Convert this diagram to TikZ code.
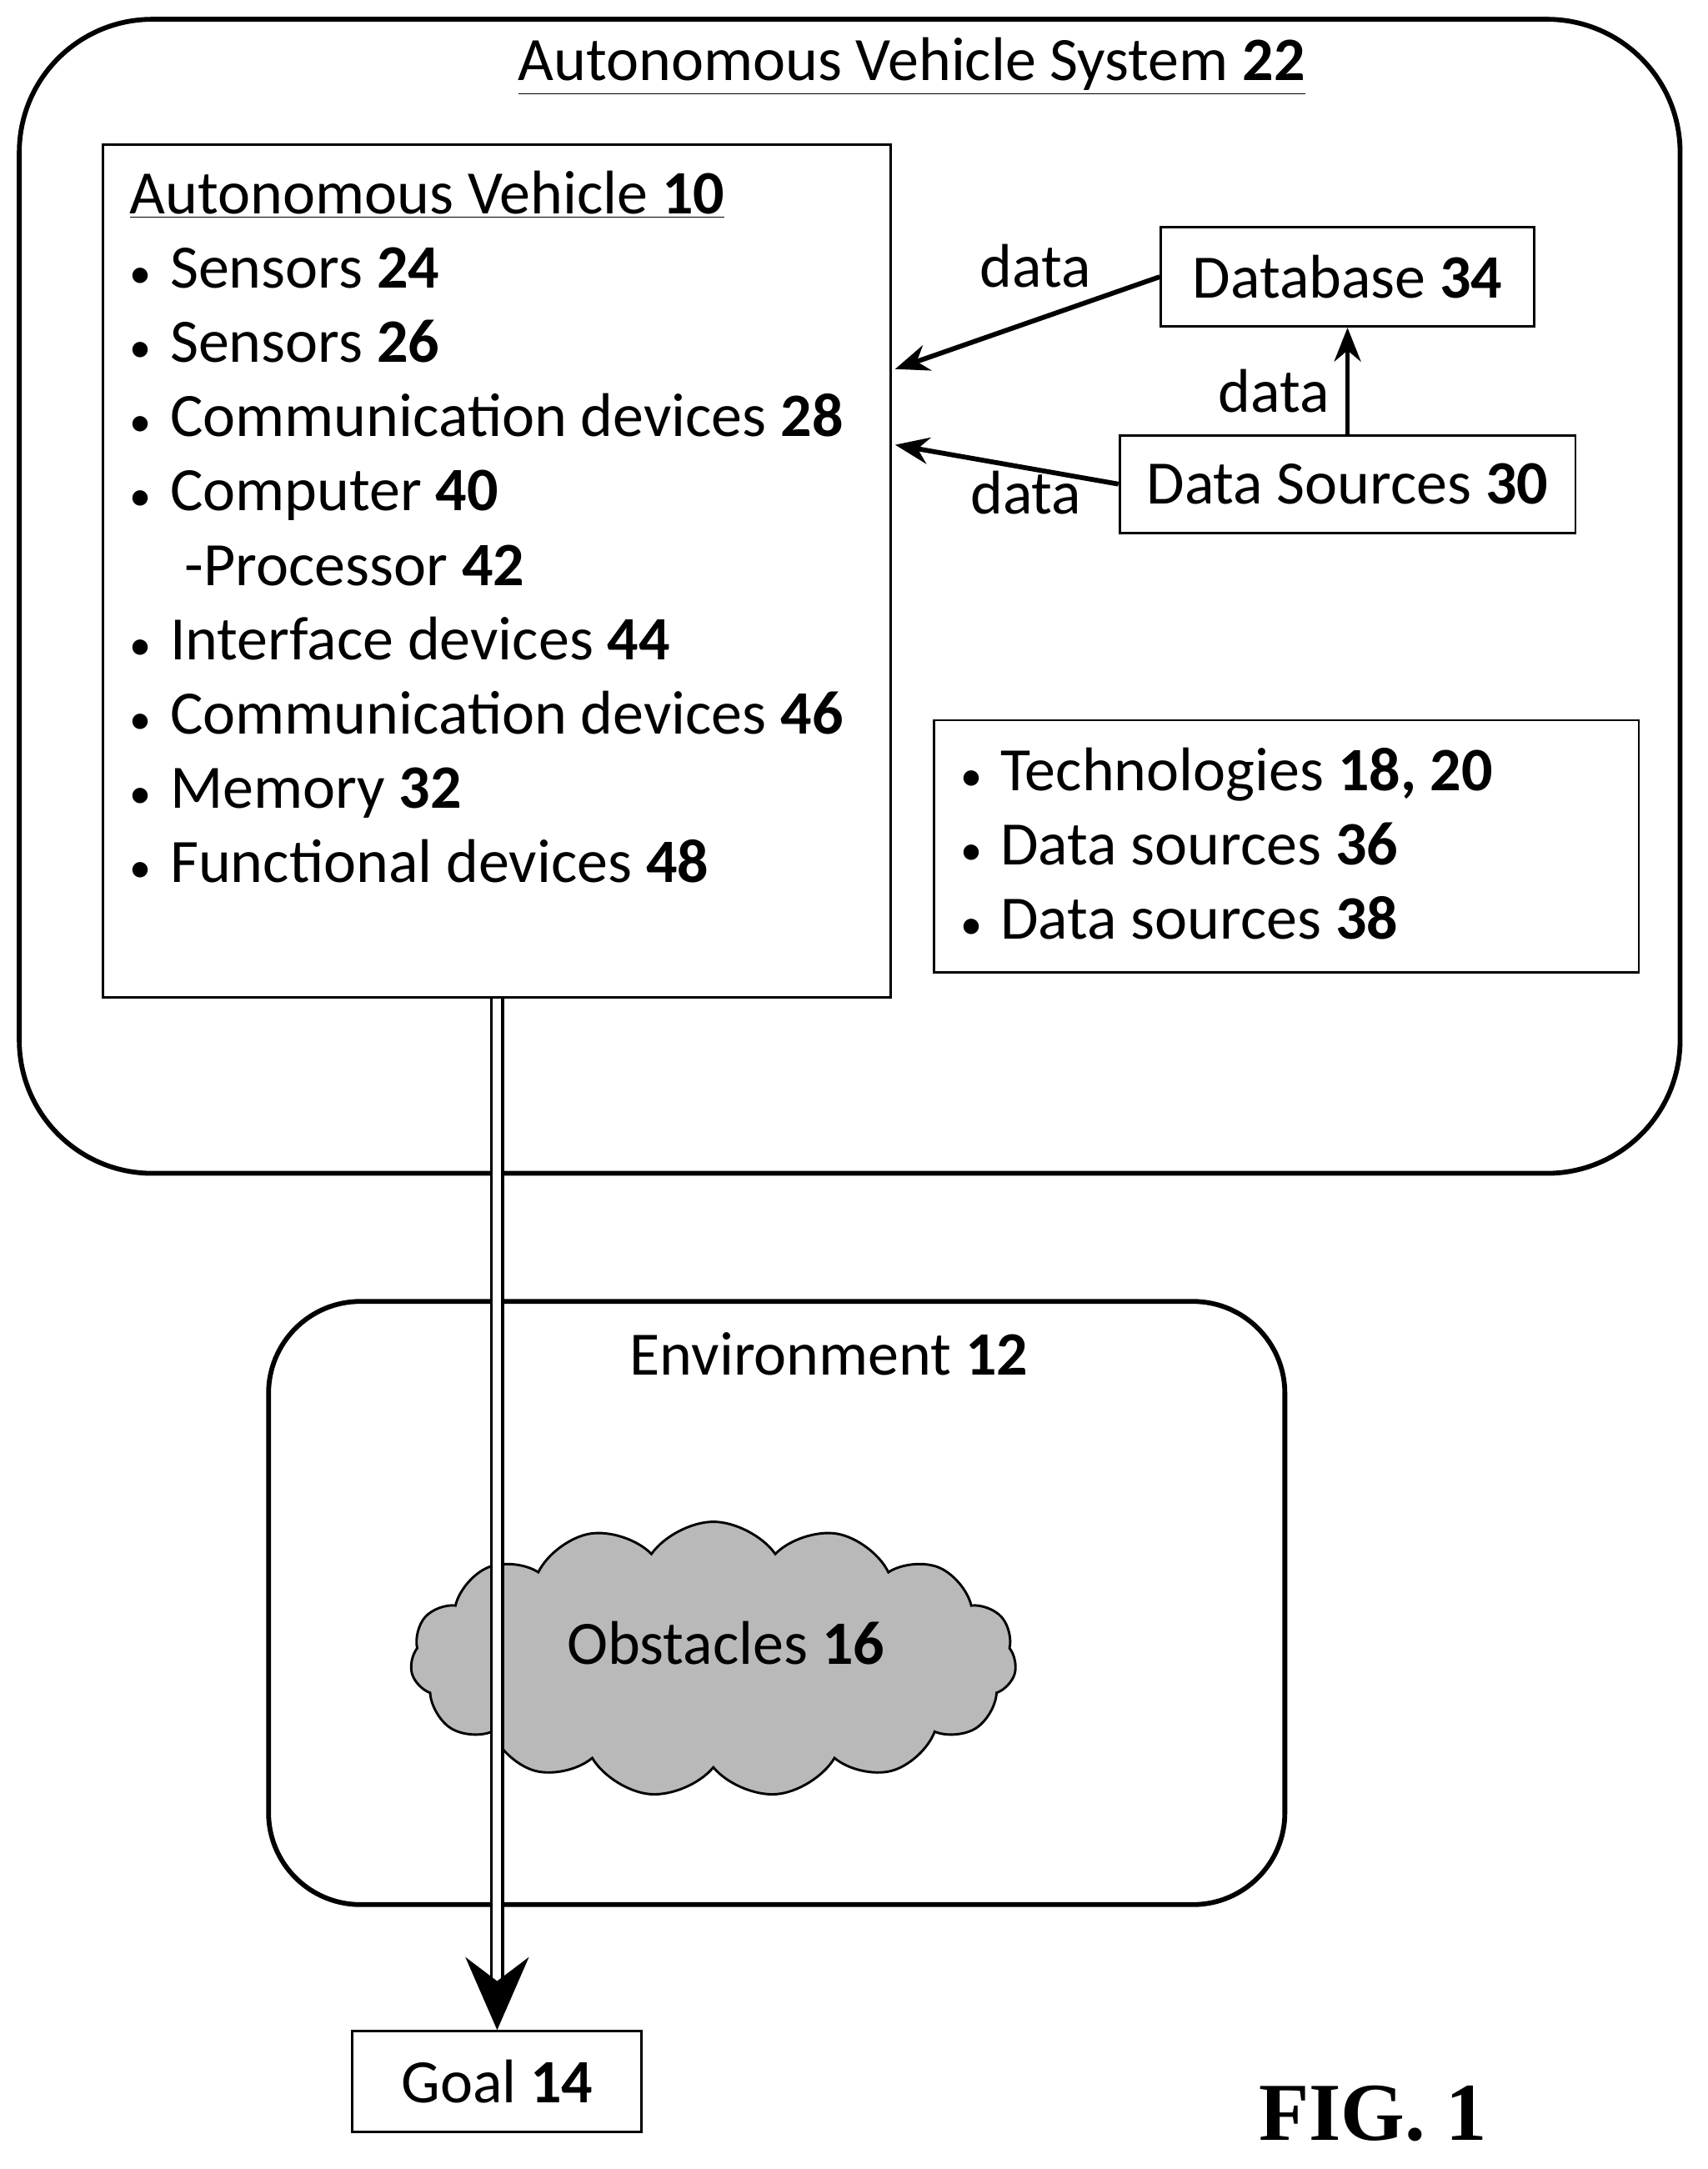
\documentclass[tikz,border=0pt]{standalone}
\usepackage{fontspec}
\setmainfont{Carlito}
\usetikzlibrary{shapes.symbols,arrows.meta}
\newcommand{\mybul}{{\fontsize{18}{20}\selectfont•}\hspace{0.3em}}
\begin{document}
\begin{tikzpicture}[x=0.02cm,y=-0.02cm,
  every node/.style={font=\fontsize{25.5}{30}\selectfont},
  box/.style={draw,line width=1pt,inner sep=0pt},
  txt/.style={inner sep=0pt,anchor=base west},
  arr/.style={line width=2pt,-{Stealth[length=14pt,width=11pt]}}]
\useasboundingbox (0,0) rectangle (1240,1575);
\draw[line width=2pt,rounded corners=55pt] (14,14) rectangle (1220,852);
\node (avs) at (662,48) {\underline{Autonomous Vehicle System \textbf{22}}};
\node[box,minimum width=572*0.02cm,minimum height=619*0.02cm] (av) at (361,414.5) {};
\node[txt] (t0) at (94,155) {\underline{Autonomous Vehicle \textbf{10}}};
\foreach \y/\t in {209/Sensors \textbf{24},263/Sensors \textbf{26},317/Communication devices \textbf{28},371/Computer \textbf{40},479/Interface devices \textbf{44},533/Communication devices \textbf{46},587/Memory \textbf{32},641/Functional devices \textbf{48}}
  {\node[txt] at (94,\y) {\mybul\t};}
\node[txt] (proc) at (134,425) {-Processor \textbf{42}};
\node[box,minimum width=271*0.02cm,minimum height=72*0.02cm] (db) at (978.5,201) {Database \textbf{34}};
\node[box,minimum width=331*0.02cm,minimum height=71*0.02cm] (ds) at (978.5,351.5) {Data Sources \textbf{30}};
\coordinate (a1) at (650,268);
\coordinate (a2) at (650,323);
\draw[arr] (db.west) -- (a1);
\draw[arr] (ds.west) -- (a2);
\draw[arr] (ds.north) -- (db.south);
\node (l1) at (752,193) {data};
\node (l2) at (745,358) {data};
\node (l3) at (925,284) {data};
\node[box,minimum width=512*0.02cm,minimum height=183*0.02cm] (tech) at (934,614.5) {};
\foreach \y/\t in {574/Technologies \textbf{18, 20},628/Data sources \textbf{36},682/Data sources \textbf{38}}
  {\node[txt] at (697,\y) {\mybul\t};}
\draw[line width=2pt,rounded corners=38pt] (195,945) rectangle (933,1383);
\node (env) at (602,983) {Environment \textbf{12}};
\node[cloud,draw,line width=1pt,fill=gray!55,cloud puffs=15,cloud puff arc=110,aspect=2.2,minimum width=440*0.02cm,minimum height=200*0.02cm] (cl) at (518,1205) {};
\node (obs) at (527,1193) {Obstacles \textbf{16}};
\node[box,minimum width=210*0.02cm,minimum height=73*0.02cm] (goal) at (361,1511.5) {Goal \textbf{14}};
\coordinate (top) at (av.south);
\coordinate (mid) at (361,1440);
\draw[line width=1.2pt,double distance=3.5pt] (top) -- (mid);
\draw[line width=3pt,-{Stealth[length=30pt,width=26pt]}] (mid) -- (goal.north);
\node[font=\fontsize{34}{40}\selectfont\bfseries\fontspec{Liberation Serif}] (fig) at (997,1535) {FIG. 1};
\end{tikzpicture}
\end{document}
